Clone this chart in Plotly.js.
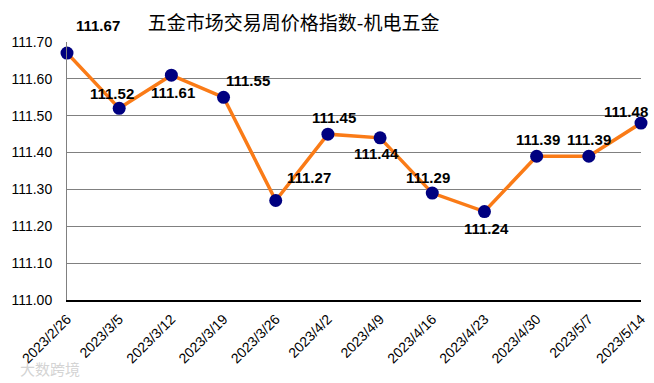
<!DOCTYPE html>
<html><head><meta charset="utf-8">
<script src="https://cdn.plot.ly/plotly-3.0.1.min.js"></script>
<style>html,body{margin:0;padding:0;background:#fff}#chart{width:654px;height:383px}</style>
</head><body><div id="chart"></div>
<script>
const titleText = "五金市场交易周价格指数-机电五金";
const dates = ["2023/2/26","2023/3/5","2023/3/12","2023/3/19","2023/3/26","2023/4/2","2023/4/9","2023/4/16","2023/4/23","2023/4/30","2023/5/7","2023/5/14"];
const values = [111.67,111.52,111.61,111.55,111.27,111.45,111.44,111.29,111.24,111.39,111.39,111.48];
const yTicks = [111.00,111.10,111.20,111.30,111.40,111.50,111.60,111.70];
// label offsets in pixels (style only)
const labelDX = [31,-7,2,24,33,6,-4,-4,2,1,0,-15];
const labelDY = [28,15,-17,17,23,17,-16,16,-17,17,17,12];

const annotations = values.map((v,i)=>({
  x: i, y: v, xref:'x', yref:'y', text: v.toFixed(2), showarrow:false,
  xshift: labelDX[i], yshift: labelDY[i],
  font:{family:'Liberation Sans, Arial, sans-serif', size:15, color:'#000', weight:'bold'}
}));
annotations.push({xref:'paper',yref:'paper',x:-0.085,y:-0.265,xanchor:'left',yanchor:'middle',
  text:'大数跨境',showarrow:false,font:{family:'Noto Sans CJK SC',size:15,color:'rgba(200,200,200,0.8)'}});

const trace = {
  x: dates.map((d,i)=>i), y: values, type:'scatter', mode:'lines+markers',
  line:{color:'#FA7B17', width:3.5},
  marker:{color:'#000080', size:13},
  cliponaxis:false, hoverinfo:'none'
};
const layout = {
  width:654, height:383,
  margin:{l:67, r:13, t:42, b:83},
  paper_bgcolor:'#fff', plot_bgcolor:'#fff',
  showlegend:false,
  title:{text:titleText, x:0.449, xanchor:'center', y:0.94, yanchor:'middle',
    font:{family:'Noto Sans CJK SC, sans-serif', size:19, color:'#000'}},
  xaxis:{range:[0,dates.length-1], tickvals:dates.map((d,i)=>i), ticktext:dates,
    tickangle:-45, showgrid:false, zeroline:false, showline:true, linecolor:'#000', linewidth:1.5,
    ticks:'', ticklabelstandoff:4, tickfont:{family:'Liberation Sans, Arial, sans-serif', size:14, color:'#000'}},
  yaxis:{range:[111.00,111.70], tickvals:yTicks, ticktext:yTicks.map(t=>t.toFixed(2)),
    showgrid:true, gridcolor:'#808080', gridwidth:1, zeroline:false,
    showline:true, linecolor:'#808080', linewidth:1, ticks:'', ticklabelstandoff:11,
    tickfont:{family:'Liberation Sans, Arial, sans-serif', size:14, color:'#000'}},
  annotations: annotations
};
Plotly.newPlot('chart',[trace],layout,{staticPlot:true});
</script></body></html>
